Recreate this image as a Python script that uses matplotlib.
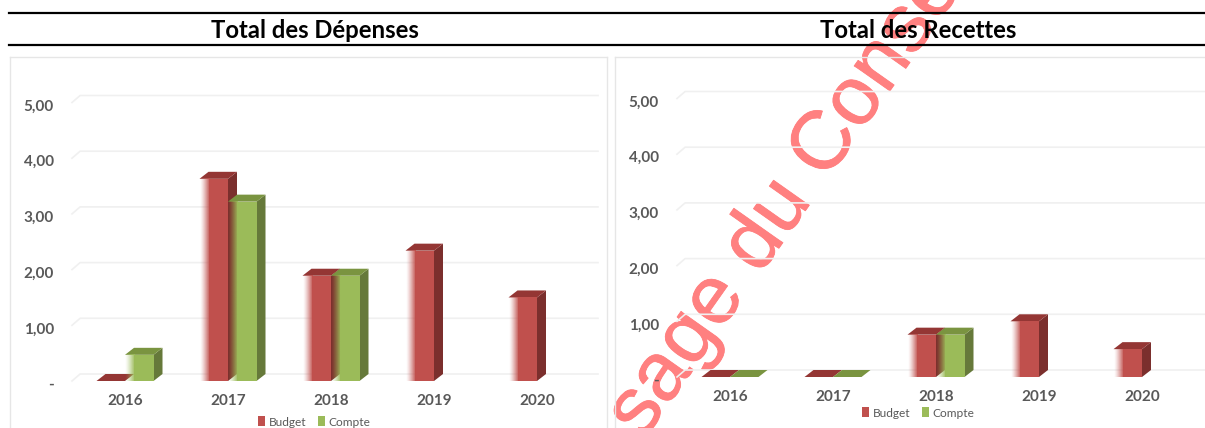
import numpy as np
import matplotlib
matplotlib.use("Agg")
import matplotlib.pyplot as plt
import matplotlib.patheffects as pe
from matplotlib.lines import Line2D
from matplotlib.patches import Patch, Polygon
from matplotlib.colors import to_rgb
from matplotlib.transforms import ScaledTranslation

plt.rcParams['font.family'] = ['Lato', 'DejaVu Sans']

W, H = 1205, 428

# data
years = ['2016', '2017', '2018', '2019', '2020']
y_ticks = [0, 1, 2, 3, 4, 5]
y_labels = ['-', '1,00', '2,00', '3,00', '4,00', '5,00']
dep_budget = [0.0, 3.63, 1.89, 2.34, 1.50]
dep_compte = [0.47, 3.22, 1.89, None, None]
rec_budget = [0.0, 0.0, 0.76, 1.00, 0.50]
rec_compte = [0.0, 0.0, 0.76, None, None]

RED = ('#c0504d', '#7b2f2d', '#943634')
GREEN = ('#9bbb59', '#66793a', '#7a9440')
GREY = '#595959'
GRID = '#f0f0f0'
FRAME = '#e6e6e6'

PX_X = 103.0   # px per category
PX_Y = 55.7    # px per unit
BAR = 28.5 / PX_X
DX = 9 / PX_X
DY = 7 / PX_Y
FADE = 9 / PX_X


def draw_bar(ax, x0, value, colors):
    if value is None:
        return
    front, side, top = colors
    x1 = x0 + BAR
    ax.add_patch(Polygon([(x1, 0), (x1 + DX, DY), (x1 + DX, value + DY), (x1, value)],
                         fc=side, ec='none', zorder=3))
    ax.add_patch(Polygon([(x0, value), (x1, value), (x1 + DX, value + DY), (x0 + DX, value + DY)],
                         fc=top, ec='none', zorder=3))
    if value <= 0:
        return
    ax.fill_between([x0 + FADE, x1], 0, value, color=front, lw=0, zorder=3)
    # soft left edge of the bars
    grad = np.zeros((1, 32, 4))
    grad[..., :3] = to_rgb(front)
    grad[..., 3] = np.linspace(0, 1, 32) ** 1.3
    ax.imshow(grad, extent=(x0, x0 + FADE + 0.002, 0, value), aspect='auto',
              interpolation='bilinear', zorder=3)


def draw_chart(left, right, zero_x, zero_y, budget, compte, grid_end, legend_x, legend_y):
    top_px = 57
    ax = fig.add_axes([left / W, 0, (right - left) / W, (H - top_px) / H])

    # grid on the back wall with the short slanted part on the left
    x_wall = -53 / PX_X
    x_end = (grid_end - zero_x) / PX_X
    for t in y_ticks:
        ax.plot([x_wall, x_wall + DX * 0.9, x_end], [t, t + DY, t + DY],
                color=GRID, lw=1.2, zorder=1)

    xs = np.arange(len(years))
    for i in xs:
        draw_bar(ax, i - BAR, budget[i], RED)
        draw_bar(ax, i, compte[i], GREEN)
    ax.set_xlim((left - zero_x) / PX_X, (right - zero_x) / PX_X)
    ax.set_ylim((zero_y - H) / PX_Y, (zero_y - top_px) / PX_Y)

    ax.set_yticks(y_ticks)
    ax.set_yticklabels(y_labels, fontsize=11, fontweight='bold', color=GREY)
    ax.tick_params(axis='y', length=0, pad=-(44 * 0.72))
    shift = ScaledTranslation(0, -2.5 / 100, fig.dpi_scale_trans)
    for lab in ax.get_yticklabels():
        lab.set_transform(lab.get_transform() + shift)
    ax.set_xticks(xs)
    ax.set_xticklabels(years, fontsize=11, fontweight='bold', color=GREY)
    ax.tick_params(axis='x', length=0, pad=-((H - zero_y - 13) * 0.72))

    for s in ['bottom', 'right']:
        ax.spines[s].set_visible(False)
    for s in ['left', 'top']:
        ax.spines[s].set_color(FRAME)
        ax.spines[s].set_linewidth(1.0)
    if right < W:
        ax.spines['right'].set_visible(True)
        ax.spines['right'].set_color(FRAME)
        ax.spines['right'].set_linewidth(1.0)
    ax.patch.set_alpha(0)

    handles = [Patch(fc=RED[0], label='Budget'), Patch(fc=GREEN[0], label='Compte')]
    ax.legend(handles=handles, ncol=2, frameon=False, fontsize=8.6, labelcolor=GREY,
              handlelength=0.6, handleheight=0.9, handletextpad=0.3, columnspacing=0.95,
              borderpad=0, borderaxespad=0, loc='center left',
              bbox_to_anchor=(legend_x / W, 1 - legend_y / H), bbox_transform=fig.transFigure)
    return ax


fig = plt.figure(figsize=(W / 100, H / 100), dpi=100)
fig.patch.set_facecolor('white')

draw_chart(10, 607, 125, 381, dep_budget, dep_compte, 598, 258, 422)
draw_chart(615, 1206, 730, 377, rec_budget, rec_compte, 1215, 862, 413)

# header band
for y in (12.5, 45):
    fig.add_artist(Line2D([9 / W, 1], [1 - y / H, 1 - y / H], color='black', lw=1.6))
fig.text(315 / W, 1 - 31 / H, 'Total des Dépenses', fontsize=17.2, fontweight='bold',
         ha='center', va='center', color='black')
fig.text(918 / W, 1 - 31 / H, 'Total des Recettes', fontsize=17.2, fontweight='bold',
         ha='center', va='center', color='black')

# watermark sits behind the charts so dark marks stay dark on it
fig.text(643 / W, 1 - 441 / H, 'sage du Conseil', fontsize=59.5, family='Liberation Sans',
         color='#ff8080', rotation=54.8, rotation_mode='anchor',
         ha='left', va='baseline', zorder=-1,
         path_effects=[pe.withStroke(linewidth=0.6, foreground='#ff8080')])

fig.savefig('out.png', dpi=100)
